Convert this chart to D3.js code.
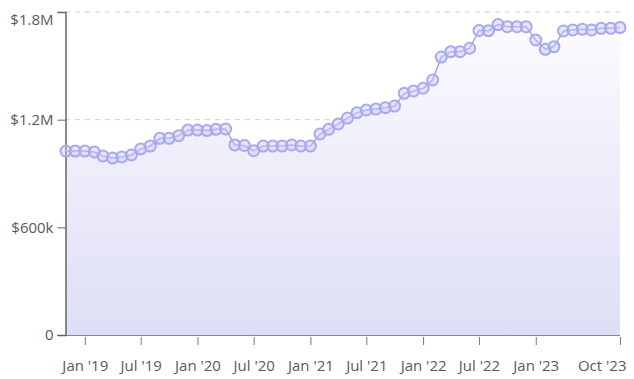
<!DOCTYPE html>
<html>
<head>
<meta charset="utf-8">
<script src="https://cdn.jsdelivr.net/npm/d3@7"></script>
<style>
  html, body { margin: 0; padding: 0; background: #fff; }
  svg { display: block; font-family: "Open Sans", "Noto Sans", sans-serif; }
</style>
</head>
<body>
<svg id="chart" width="634" height="379"></svg>
<script>
// Monthly values, Nov 2018 .. Oct 2023
const startMonth = "2018-11";
const endMonth = "2023-10";
const values = [
  1025000, 1025000, 1025000, 1020000, 997000, 986000, 992000, 1003000, 1037000, 1053000,
  1096000, 1096000, 1111000, 1142000, 1142000, 1139000, 1146000, 1148000, 1059000, 1056000,
  1027000, 1053000, 1053000, 1053000, 1059000, 1053000, 1053000, 1120000, 1146000, 1176000,
  1209000, 1239000, 1254000, 1259000, 1267000, 1276000, 1347000, 1360000, 1375000, 1421000,
  1549000, 1579000, 1579000, 1598000, 1697000, 1696000, 1730000, 1718000, 1718000, 1718000,
  1644000, 1592000, 1607000, 1694000, 1700000, 1704000, 1700000, 1709000, 1709000, 1713000
];
const xTickDates = ["2019-01", "2019-07", "2020-01", "2020-07", "2021-01", "2021-07", "2022-01", "2022-07", "2023-01", "2023-10"];
const xTickLabels = ["Jan '19", "Jul '19", "Jan '20", "Jul '20", "Jan '21", "Jul '21", "Jan '22", "Jul '22", "Jan '23", "Oct '23"];
const yTicks = [0, 600000, 1200000, 1800000];
const yTickLabels = ["0", "$600k", "$1.2M", "$1.8M"];

const parse = d3.timeParse("%Y-%m");
const start = parse(startMonth), end = parse(endMonth);
const months = d3.timeMonth.range(start, d3.timeMonth.offset(end, 1));
const data = months.map((d, i) => ({ date: d, value: values[i] }));

const margin = { top: 12, right: 14, bottom: 44, left: 65 };
const W = 634, H = 379;
const svg = d3.select("#chart");

const x = d3.scaleTime().domain([start, end]).range([margin.left + 1, W - margin.right]);
const y = d3.scaleLinear().domain([0, 1800000]).range([H - margin.bottom, margin.top]);

// gradient
const defs = svg.append("defs");
const grad = defs.append("linearGradient").attr("id", "areaGrad")
  .attr("gradientUnits", "userSpaceOnUse")
  .attr("x1", 0).attr("x2", 0).attr("y1", y(1800000)).attr("y2", y(0));
grad.append("stop").attr("offset", "0%").attr("stop-color", "#fcfcff");
grad.append("stop").attr("offset", "100%").attr("stop-color", "#dedef6");

// gridlines
svg.append("g").selectAll("line").data(yTicks.filter(v => v > 0)).join("line")
  .attr("x1", margin.left).attr("x2", W - margin.right)
  .attr("y1", d => y(d)).attr("y2", d => y(d))
  .attr("stroke", "#cfcfcf").attr("stroke-dasharray", "5,5").attr("stroke-width", 1);

// area
const area = d3.area().x(d => x(d.date)).y0(y(0)).y1(d => y(d.value));
svg.append("path").datum(data).attr("d", area).attr("fill", "url(#areaGrad)");

// bottom line
svg.append("line").attr("x1", margin.left - 8).attr("x2", W - margin.right)
  .attr("y1", y(0) + 0.5).attr("y2", y(0) + 0.5).attr("stroke", "#888").attr("stroke-width", 1);

const FONT = "'Open Sans', 'Noto Sans', sans-serif";

// y axis
const yAxis = d3.axisLeft(y).tickValues(yTicks).tickSize(8).tickPadding(4)
  .tickFormat((d, i) => yTickLabels[i]);
const gy = svg.append("g").attr("transform", `translate(${margin.left + 0.5},0)`).call(yAxis);
gy.select(".domain").attr("stroke", "#666").attr("stroke-width", 1.5);
gy.selectAll(".tick line").attr("stroke", "#666");
gy.selectAll(".tick text").attr("fill", "#5a5a5a").style("font-size", "15px").style("font-family", FONT)
  .attr("dy", d => d === 1800000 ? "0.85em" : "0.32em");

// x axis
const xAxis = d3.axisBottom(x).tickValues(xTickDates.map(parse)).tickSize(8).tickPadding(15)
  .tickFormat((d, i) => xTickLabels[i]);
const gx = svg.append("g").attr("transform", `translate(0,${y(0) + 2})`).call(xAxis);
gx.select(".domain").remove();
gx.selectAll(".tick line").attr("stroke", "#777");
gx.selectAll(".tick text").attr("fill", "#5a5a5a").style("font-size", "15px").style("font-family", FONT);
gx.selectAll(".tick").filter((d, i, n) => i === n.length - 1).select("text")
  .attr("text-anchor", "end").attr("x", 6);

// line
const line = d3.line().x(d => x(d.date)).y(d => y(d.value));
svg.append("path").datum(data).attr("d", line)
  .attr("fill", "none").attr("stroke", "#a4a4ea").attr("stroke-width", 1.5);

// points
svg.append("g").selectAll("circle").data(data).join("circle")
  .attr("cx", d => x(d.date)).attr("cy", d => y(d.value)).attr("r", 5.5)
  .attr("fill", "rgba(200,200,245,0.45)").attr("stroke", "#a8a8ec").attr("stroke-width", 2);
</script>
</body>
</html>
